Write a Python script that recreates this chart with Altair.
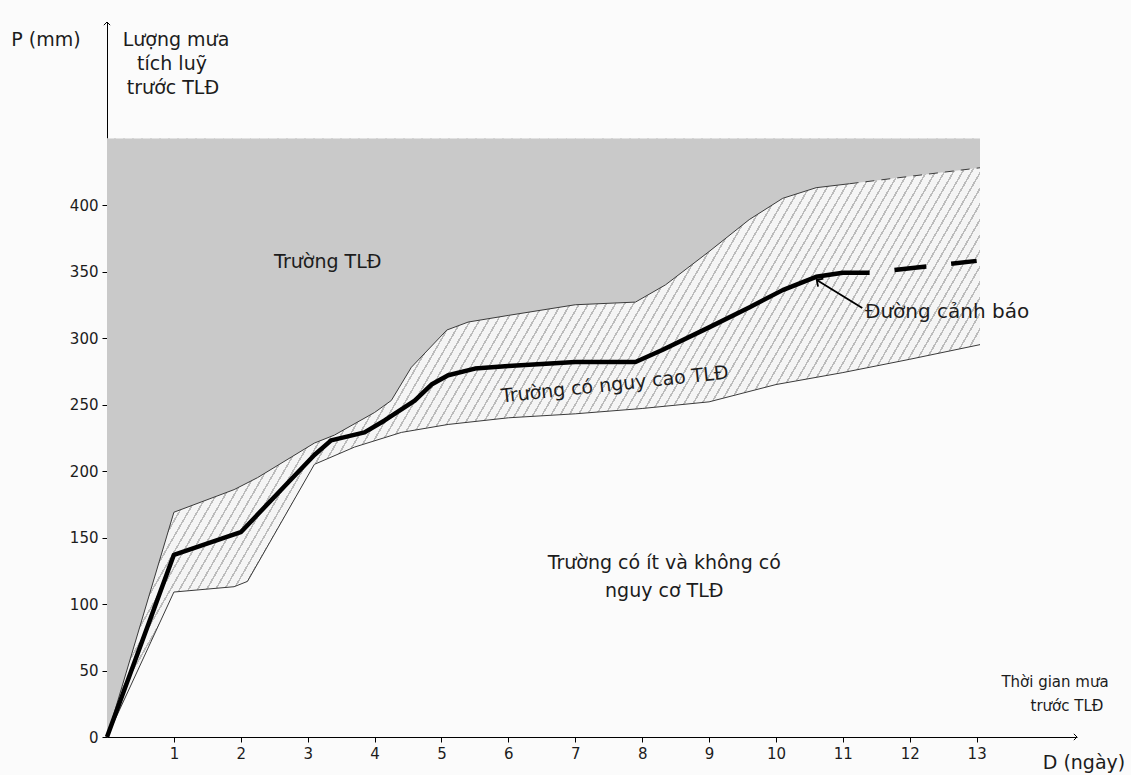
import altair as alt
import pandas as pd

# ---- data ----
# warning line "Đường cảnh báo" (days, mm)
warn_x = [0, 1.0, 2.0, 2.7, 3.1, 3.35, 3.85, 4.15, 4.6, 4.85, 5.1, 5.5, 6.0, 7.0, 7.9, 8.3, 9.0, 9.6, 10.1, 10.6, 11.0, 11.4]
warn_y = [0, 137, 154, 191, 212, 223, 229, 238, 253, 265, 272, 277, 279, 282, 282, 291, 308, 323, 336, 346, 349, 349]
warn_dash_x = [11.4, 13.0]
warn_dash_y = [349, 358]

# upper boundary of the high-risk band
upper_x = [0, 1.0, 1.9, 2.25, 3.1, 3.4, 4.0, 4.25, 4.55, 5.08, 5.4, 6.0, 7.0, 7.9, 8.35, 9.0, 9.6, 10.1, 10.6, 11.1]
upper_y = [0, 169, 186, 195, 221, 227, 244, 253, 278, 306, 312, 317, 325, 327, 340, 365, 389, 405, 413, 416]
upper_dash_x = [11.1, 13.05]
upper_dash_y = [416, 428]

# lower boundary of the high-risk band
lower_x = [0, 1.0, 1.9, 2.1, 3.1, 3.7, 4.4, 5.1, 6.0, 7.0, 8.0, 9.0, 10.0, 11.0, 12.0, 13.05]
lower_y = [0, 109, 113, 117, 205, 218, 229, 235, 240, 243, 247, 252, 265, 274, 284, 295]

zone_top = 450
x_ticks = list(range(1, 14))
y_ticks = list(range(0, 401, 50))
X_MAX = 14.5
Y_MAX = 537.6

FONT = "DejaVu Sans"
TXT = "#1c1c1c"


# ---- hatch-like fill made from a striped linear gradient (styling only) ----
def stripes(n_periods, line_frac, bg, fg, x2, y2):
    stops = []
    for i in range(n_periods):
        a = i / n_periods
        b = (i + 1 - line_frac) / n_periods
        c = (i + 1) / n_periods
        stops += [{"offset": a, "color": bg}, {"offset": b, "color": bg},
                  {"offset": b, "color": fg}, {"offset": c, "color": fg}]
    return {"gradient": "linear", "x1": 0, "y1": 0, "x2": x2, "y2": y2, "stops": stops}


band_fill = stripes(135, 0.2, "#f5f5f5", "#bcbcbc", 1.2066, 0.478)

# ---- tables ----
warn_df = pd.DataFrame({"x": warn_x, "y": warn_y})
warn_dash_df = pd.DataFrame({"x": warn_dash_x, "y": warn_dash_y})
upper_df = pd.DataFrame({"x": upper_x, "y": upper_y})
upper_dash_df = pd.DataFrame({"x": upper_dash_x, "y": upper_dash_y})
lower_df = pd.DataFrame({"x": lower_x, "y": lower_y})
top_area_df = pd.DataFrame({"x": upper_x + upper_dash_x[1:], "y": upper_y + upper_dash_y[1:]})
top_area_df["top"] = zone_top
band_df = lower_df.copy()
band_df["top"] = zone_top

xs = alt.Scale(domain=[0, X_MAX], nice=False, zero=False)
ys = alt.Scale(domain=[0, Y_MAX], nice=False, zero=False)

xaxis = alt.Axis(values=x_ticks, title=None, grid=False, domainColor="black", domainWidth=1,
                 tickColor="black", tickSize=5, labelFontSize=15, labelFont=FONT,
                 labelColor=TXT, labelPadding=4, format="d", labelFlush=False)
yaxis = alt.Axis(values=y_ticks, title=None, grid=False, domainColor="black", domainWidth=1,
                 tickColor="black", tickSize=5, labelFontSize=15, labelFont=FONT,
                 labelColor=TXT, labelPadding=4, format="d", labelFlush=False)

X = alt.X("x:Q", scale=xs, axis=xaxis)
Y = alt.Y("y:Q", scale=ys, axis=yaxis)

band = alt.Chart(band_df).mark_area(fill=band_fill, interpolate="linear").encode(
    x=X, y=Y, y2="top:Q")
top_zone = alt.Chart(top_area_df).mark_area(color="#c9c9c9", interpolate="linear").encode(
    x=X, y=Y, y2="top:Q")

upper_line = alt.Chart(upper_df).mark_line(color="#3a3a3a", strokeWidth=1).encode(x=X, y=Y)
upper_dash = alt.Chart(upper_dash_df).mark_line(color="#3a3a3a", strokeWidth=1,
                                                strokeDash=[9, 7]).encode(x=X, y=Y)
lower_line = alt.Chart(lower_df).mark_line(color="#3a3a3a", strokeWidth=1).encode(x=X, y=Y)
warn_line = alt.Chart(warn_df).mark_line(color="black", strokeWidth=4.5,
                                         strokeJoin="round").encode(x=X, y=Y)
warn_dash = alt.Chart(warn_dash_df).mark_line(color="black", strokeWidth=4.5,
                                              strokeDash=[32, 25], strokeDashOffset=32).encode(x=X, y=Y)

# axis arrowheads at the ends of both axes
arrow_up = alt.Chart(pd.DataFrame({"x": [0], "y": [Y_MAX]})).mark_point(
    shape="M-1,1L0,0L1,1", size=40, filled=False, color="black", strokeWidth=1, opacity=1
).encode(x=X, y=Y)
arrow_right = alt.Chart(pd.DataFrame({"x": [X_MAX], "y": [0]})).mark_point(
    shape="M-1,-1L0,0L-1,1", size=40, filled=False, color="black", strokeWidth=1, opacity=1
).encode(x=X, y=Y)

# pointer to the warning line
pointer_df = pd.DataFrame({"x": [11.29], "y": [322.6], "x2": [10.61], "y2": [343.6]})
pointer = alt.Chart(pointer_df).mark_rule(color="black", strokeWidth=1.8).encode(
    x=X, y=Y, x2="x2:Q", y2="y2:Q")
pointer_head = alt.Chart(pd.DataFrame({"x": [10.61], "y": [343.6]})).mark_point(
    shape="M-1,1L0,0L1,1", size=90, filled=False, color="black", strokeWidth=1.8,
    angle=304, opacity=1).encode(x=X, y=Y)


def label(txt, x, y, size=19, align="center", angle=0, baseline="middle"):
    df = pd.DataFrame({"x": [x], "y": [y], "t": [txt]})
    kw = dict(font=FONT, fontSize=size, color=TXT, align=align, baseline=baseline)
    if angle:
        kw["angle"] = angle
    return alt.Chart(df).mark_text(**kw).encode(x=X, y=Y, text="t:N")


def plabel(txt, px, py, size=19, align="center"):
    df = pd.DataFrame({"t": [txt]})
    return alt.Chart(df).mark_text(font=FONT, fontSize=size, color=TXT, align=align,
                                   baseline="middle").encode(
        x=alt.value(px - 107), y=alt.value(py - 22), text="t:N")


texts = [
    plabel("P (mm)", 46, 40, 19),
    plabel("Lượng mưa", 176, 40, 19),
    plabel("tích luỹ", 172, 64, 19),
    plabel("trước TLĐ", 173, 88, 19),
    label("Trường TLĐ", 3.30, 357, 19),
    label("Trường có nguy cao TLĐ", 7.59, 265, 19, angle=354),
    label("Trường có ít và không có", 8.33, 131, 19),
    label("nguy cơ TLĐ", 8.33, 110, 19),
    label("Đường cảnh báo", 11.33, 319.5, 20, align="left"),
    plabel("Thời gian mưa", 1055, 682, 15),
    plabel("trước TLĐ", 1067, 706, 15),
    plabel("D (ngày)", 1084, 763, 19),
]

chart = alt.layer(
    band, top_zone, upper_line, upper_dash, lower_line, warn_line, warn_dash,
    pointer, pointer_head, arrow_up, arrow_right, *texts
).properties(
    width=970, height=715,
    autosize=alt.AutoSizeParams(type="none"),
    padding={"left": 107, "top": 22, "right": 54, "bottom": 38},
    background="#fbfbfb",
).configure_view(stroke=None)

chart.save("out.html", embed_options={"renderer": "svg", "actions": False})
